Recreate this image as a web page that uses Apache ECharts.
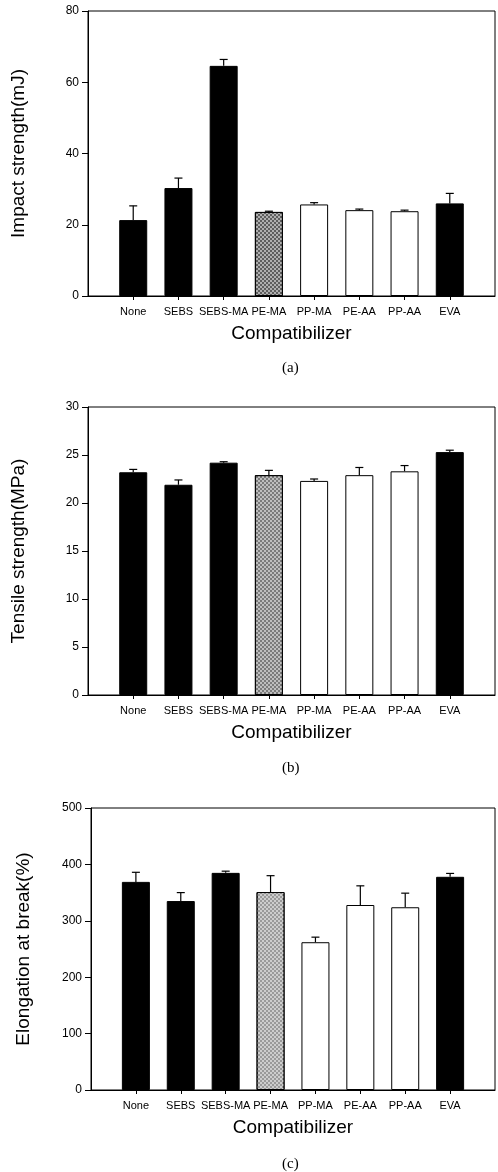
<!DOCTYPE html>
<html><head><meta charset="utf-8">
<script src="https://cdn.jsdelivr.net/npm/echarts@6/dist/echarts.min.js"></script>
<style>html,body{margin:0;padding:0;background:#fff}#c{width:498px;height:1172px}</style>
</head><body><div id="c"></div>
<script>
const categories = ['None','SEBS','SEBS-MA','PE-MA','PP-MA','PE-AA','PP-AA','EVA'];
const impactVals = [21.3, 30.3, 64.6, 23.6, 25.7, 24.1, 23.8, 26.0];
const impactErrTop = [25.3, 33.1, 66.4, 23.8, 26.2, 24.4, 24.1, 28.8];
const tensileVals = [23.2, 21.9, 24.2, 22.9, 22.3, 22.9, 23.3, 25.3];
const tensileErrTop = [23.5, 22.4, 24.3, 23.4, 22.5, 23.7, 23.9, 25.5];
const elongVals = [369, 335, 385, 351, 262, 328, 324, 378];
const elongErrTop = [386, 350, 388, 380, 271, 362, 349, 384];
const yTicksA = [0, 80, 20];
const yTicksB = [0, 30, 5];
const yTicksC = [0, 500, 100];
const fillKinds = ['black','black','black','gray','white','white','white','black'];

const FONT = "'Liberation Sans', Arial, sans-serif";
const padded = [''].concat(categories, ['']);

const panels = [
  {grid:{left:88, top:11, width:412, height:285}, gray:'#5e5e5e', name:'Impact strength(mJ)', ticks:yTicksA, vals:impactVals, err:impactErrTop, gap:60, label:'(a)', ly:361},
  {grid:{left:88, top:407, width:412, height:288}, gray:'#7a7a7a', name:'Tensile strength(MPa)', ticks:yTicksB, vals:tensileVals, err:tensileErrTop, gap:60, label:'(b)', ly:761},
  {grid:{left:91, top:808, width:406, height:282}, gray:'#9a9a9a', name:'Elongation at break(%)', ticks:yTicksC, vals:elongVals, err:elongErrTop, gap:58, label:'(c)', ly:1157}
];

const option = {
  animation:false,
  backgroundColor:'#fff',
  grid:[], xAxis:[], yAxis:[], series:[], graphic:[]
};
panels.forEach((p, k) => {
  const fillColor = {black:'#000', gray:p.gray, white:'#fff'};
  option.grid.push(Object.assign({show:true, borderColor:'#000', borderWidth:1, containLabel:false}, p.grid));
  option.xAxis.push({
    type:'category', gridIndex:k, data:padded, boundaryGap:false,
    axisLine:{lineStyle:{color:'#000', width:1}},
    axisTick:{show:true, length:4, inside:false, lineStyle:{color:'#000'}, interval:(i)=>i>0 && i<padded.length-1},
    axisLabel:{interval:0, color:'#000', fontFamily:FONT, fontSize:11, margin:10},
    name:'Compatibilizer', nameLocation:'middle', nameGap:28,
    nameTextStyle:{color:'#000', fontFamily:FONT, fontSize:19}
  });
  option.yAxis.push({
    type:'value', gridIndex:k, min:p.ticks[0], max:p.ticks[1], interval:p.ticks[2],
    axisLine:{show:true, lineStyle:{color:'#000', width:1}},
    axisTick:{show:true, length:6, lineStyle:{color:'#000'}},
    splitLine:{show:false},
    axisLabel:{color:'#000', fontFamily:FONT, fontSize:12, margin:9},
    name:p.name, nameLocation:'middle', nameGap:p.gap,
    nameTextStyle:{color:'#000', fontFamily:FONT, fontSize:19}
  });
  const barData = [null].concat(p.vals.map((v,i)=>{
    const st = {color:fillColor[fillKinds[i]], borderColor:'#000', borderWidth:1};
    if (fillKinds[i]==='gray') st.decal = {symbol:'rect', symbolSize:1, dashArrayX:[[2,2],[0,2,2,0]], dashArrayY:[2,0], color:'rgba(255,255,255,0.5)'};
    return {value:v, itemStyle:st};
  }), [null]);
  option.series.push({
    type:'bar', xAxisIndex:k, yAxisIndex:k, data:barData, barWidth:28, silent:true
  });
  option.series.push({
    type:'custom', xAxisIndex:k, yAxisIndex:k, silent:true,
    data:p.vals.map((v,i)=>[i+1, v, p.err[i]]),
    renderItem:(params, api) => {
      const base = api.coord([api.value(0), api.value(1)]);
      const top = api.coord([api.value(0), api.value(2)]);
      return {type:'group', children:[
        {type:'line', shape:{x1:base[0], y1:base[1], x2:top[0], y2:top[1]}, style:{stroke:'#000', lineWidth:1.2}},
        {type:'line', shape:{x1:top[0]-4, y1:top[1], x2:top[0]+4, y2:top[1]}, style:{stroke:'#000', lineWidth:1.2}}
      ]};
    }
  });
  option.graphic.push({type:'text', left:282, top:p.ly, style:{text:p.label, font:"15px 'Liberation Serif', 'Times New Roman', serif", fill:'#000'}});
});

const chart = echarts.init(document.getElementById('c'), null, {renderer:'canvas'});
chart.setOption(option);
</script>
</body></html>
